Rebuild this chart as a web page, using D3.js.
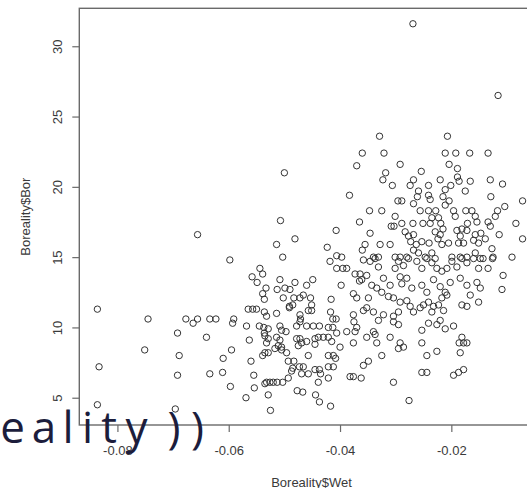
<!DOCTYPE html>
<html>
<head>
<meta charset="utf-8">
<script src="https://cdn.jsdelivr.net/npm/d3@7"></script>
<style>
  html, body { margin: 0; padding: 0; background: #ffffff; }
  svg { display: block; }
</style>
</head>
<body>
<svg id="chart" width="527" height="488"></svg>
<script>
// ---- data ----
const xTicks = [-0.08, -0.06, -0.04, -0.02];
const yTicks = [5, 10, 15, 20, 25, 30];
const xTitle = "Boreality$Wet";
const yTitle = "Boreality$Bor";
const overlayText = "eality))";

const wet = [
  -0.0836,-0.0745,-0.0677,-0.0664,-0.0656,-0.0634,-0.0623,-0.0591,-0.0593,-0.0565,
  -0.0557,-0.0550,-0.0536,-0.0514,-0.0568,-0.0545,-0.0529,-0.0536,-0.0692,-0.0640,
  -0.0563,-0.0532,-0.0517,-0.0535,-0.0539,-0.0595,-0.0751,-0.0610,-0.0689,-0.0560,
  -0.0833,-0.0692,-0.0634,-0.0611,-0.0555,-0.0597,-0.0554,-0.0569,-0.0529,-0.0836,
  -0.0696,-0.0525,-0.0532,-0.0526,-0.0520,-0.0513,-0.0503,-0.0535,-0.0656,-0.0598,
  -0.0544,-0.0539,-0.0558,-0.0549,-0.0533,-0.0539,-0.0536,-0.0514,-0.0360,-0.0370,
  -0.0500,-0.0383,-0.0507,-0.0365,-0.0407,-0.0481,-0.0423,-0.0406,-0.0397,-0.0360,
  -0.0503,-0.0269,-0.0116,-0.0329,-0.0207,-0.0321,-0.0211,-0.0192,-0.0167,-0.0134,
  -0.0292,-0.0204,-0.0189,-0.0318,-0.0323,-0.0254,-0.0189,-0.0186,-0.0268,-0.0274,
  -0.0220,-0.0166,-0.0130,-0.0108,-0.0306,-0.0241,-0.0201,-0.0211,-0.0175,-0.0259,
  -0.0261,-0.0241,-0.0238,-0.0215,-0.0211,-0.0204,-0.0129,-0.0072,-0.0296,-0.0289,
  -0.0268,-0.0347,-0.0325,-0.0256,-0.0241,-0.0228,-0.0196,-0.0174,-0.0163,-0.0117,
  -0.0104,-0.0193,-0.0157,-0.0154,-0.0121,-0.0301,-0.0235,-0.0223,-0.0308,-0.0303,
  -0.0289,-0.0269,-0.0251,-0.0238,-0.0219,-0.0215,-0.0171,-0.0134,-0.0130,-0.0084,
  -0.0346,-0.0283,-0.0277,-0.0268,-0.0229,-0.0220,-0.0190,-0.0181,-0.0172,-0.0157,
  -0.0147,-0.0114,-0.0072,-0.0355,-0.0328,-0.0310,-0.0273,-0.0263,-0.0253,-0.0240,
  -0.0224,-0.0217,-0.0205,-0.0184,-0.0187,-0.0178,-0.0160,-0.0151,-0.0139,-0.0127,
  -0.0340,-0.0331,-0.0301,-0.0292,-0.0280,-0.0268,-0.0259,-0.0247,-0.0235,-0.0229,
  -0.0199,-0.0184,-0.0172,-0.0157,-0.0148,-0.0125,-0.0091,-0.0418,-0.0406,-0.0395,
  -0.0388,-0.0373,-0.0364,-0.0365,-0.0508,-0.0481,-0.0460,-0.0449,-0.0513,-0.0499,
  -0.0490,-0.0502,-0.0483,-0.0472,-0.0466,-0.0453,-0.0451,-0.0491,-0.0485,-0.0491,
  -0.0376,-0.0370,-0.0416,-0.0398,-0.0532,-0.0472,-0.0471,-0.0457,-0.0451,-0.0417,
  -0.0413,-0.0407,-0.0376,-0.0375,-0.0370,-0.0358,-0.0537,-0.0508,-0.0505,-0.0497,
  -0.0478,-0.0472,-0.0460,-0.0448,-0.0437,-0.0421,-0.0413,-0.0388,-0.0373,-0.0535,
  -0.0529,-0.0514,-0.0508,-0.0511,-0.0505,-0.0478,-0.0472,-0.0469,-0.0475,-0.0460,
  -0.0445,-0.0439,-0.0445,-0.0430,-0.0421,-0.0415,-0.0406,-0.0400,-0.0376,-0.0529,
  -0.0505,-0.0496,-0.0457,-0.0493,-0.0483,-0.0487,-0.0485,-0.0473,-0.0466,-0.0469,
  -0.0457,-0.0445,-0.0437,-0.0435,-0.0421,-0.0412,-0.0408,-0.0421,-0.0412,-0.0493,
  -0.0439,-0.0421,-0.0382,-0.0376,-0.0362,-0.0477,-0.0467,-0.0444,-0.0437,-0.0417,
  -0.0304,-0.0276,-0.0358,-0.0346,-0.0337,-0.0331,-0.0295,-0.0301,-0.0286,-0.0277,
  -0.0262,-0.0253,-0.0244,-0.0235,-0.0226,-0.0217,-0.0208,-0.0199,-0.0190,-0.0181,
  -0.0172,-0.0160,-0.0151,-0.0143,-0.0134,-0.0126,-0.0107,-0.0352,-0.0361,-0.0343,
  -0.0334,-0.0322,-0.0310,-0.0292,-0.0289,-0.0280,-0.0271,-0.0253,-0.0244,-0.0232,
  -0.0220,-0.0211,-0.0202,-0.0184,-0.0172,-0.0166,-0.0154,-0.0148,-0.0109,-0.0349,
  -0.0325,-0.0313,-0.0304,-0.0292,-0.0280,-0.0274,-0.0268,-0.0256,-0.0250,-0.0241,
  -0.0232,-0.0223,-0.0217,-0.0208,-0.0235,-0.0214,-0.0181,-0.0172,-0.0151,-0.0352,
  -0.0340,-0.0322,-0.0304,-0.0295,-0.0331,-0.0304,-0.0295,-0.0253,-0.0241,-0.0226,
  -0.0220,-0.0211,-0.0196,-0.0352,-0.0337,-0.0340,-0.0310,-0.0334,-0.0181,-0.0178,
  -0.0172,-0.0186,-0.0253,-0.0292,-0.0286,-0.0295,-0.0226,-0.0244,-0.0184,-0.0325,
  -0.0349,-0.0358,-0.0253,-0.0244,-0.0196,-0.0187,-0.0178
];

const bor = [
  11.3,10.6,10.6,10.3,10.6,10.6,10.6,10.6,10.3,11.3,
  11.3,11.3,11.1,11.0,10.1,10.1,9.9,9.6,9.6,9.3,
  9.1,8.9,8.5,8.2,8.0,8.4,8.4,7.8,8.0,7.6,
  7.2,6.6,6.7,6.8,6.6,5.8,5.7,5.0,5.2,4.5,
  4.2,4.1,6.1,6.1,6.1,6.1,6.1,6.0,16.6,14.8,
  14.2,13.8,13.6,13.2,12.8,12.4,12.0,15.9,22.4,21.5,
  21.0,19.4,17.6,17.5,16.9,16.3,15.7,15.1,15.0,15.5,
  15.0,31.6,26.5,23.6,23.6,22.4,22.4,22.4,22.4,22.4,
  21.6,21.6,21.3,21.0,20.5,21.1,20.7,20.4,20.5,20.1,
  20.5,20.4,20.5,20.2,20.1,20.1,20.1,19.8,19.7,19.7,
  19.3,19.4,19.1,19.3,18.7,19.0,19.3,19.0,19.0,19.0,
  18.8,18.3,18.3,18.3,18.3,18.3,18.3,18.3,18.3,18.3,
  18.6,17.9,17.9,17.5,17.9,17.9,17.8,17.8,17.2,17.2,
  17.4,17.4,17.4,17.4,17.4,17.0,17.4,17.5,17.2,17.4,
  16.7,16.8,16.5,16.6,16.8,16.6,16.9,17.0,16.9,16.6,
  16.7,16.6,16.3,15.9,15.9,15.9,16.1,15.9,16.1,16.0,
  16.3,15.9,16.0,16.5,16.0,16.0,16.2,16.0,16.3,15.6,
  15.0,15.0,15.0,15.0,15.0,15.5,15.3,15.0,15.3,14.9,
  15.0,15.0,15.0,15.3,14.9,15.0,15.0,14.7,14.2,14.2,
  14.2,13.8,13.8,13.3,13.4,13.2,13.0,13.4,12.7,12.8,
  12.7,12.1,12.1,12.1,12.3,12.1,11.6,11.5,11.6,11.4,
  12.4,12.1,12.0,13.0,10.8,10.9,10.6,11.2,11.2,11.1,
  10.6,10.6,10.9,10.4,10.0,11.2,10.0,10.1,9.8,9.7,
  10.1,10.4,10.1,10.1,10.1,10.0,10.0,9.7,9.7,9.4,
  9.2,9.3,9.1,8.7,8.6,9.2,9.2,8.9,8.7,9.0,
  9.2,9.3,8.8,9.3,9.3,9.0,9.6,8.6,8.9,8.2,
  8.4,8.2,8.0,7.6,7.6,6.9,7.1,7.2,7.2,6.7,
  6.7,7.0,7.0,6.7,8.0,8.0,7.8,7.2,7.2,6.4,
  6.1,6.4,6.5,6.5,6.4,5.5,5.4,5.2,4.7,4.4,
  6.1,4.8,14.8,14.7,14.9,14.3,14.7,14.2,14.4,14.9,
  14.7,14.2,14.9,14.6,14.2,14.0,14.2,14.7,14.3,14.9,
  14.6,14.9,14.2,14.9,14.2,14.9,13.7,13.7,13.4,13.0,
  12.8,13.5,13.0,13.6,13.1,13.5,12.8,13.0,12.5,13.4,
  12.9,12.5,13.2,13.5,13.0,12.3,13.2,12.8,12.7,12.1,
  12.5,12.2,12.1,11.8,11.9,11.5,11.1,11.4,11.6,11.8,
  11.5,11.6,12.1,12.3,11.1,11.2,11.6,11.5,11.8,11.4,
  11.1,10.9,10.8,11.1,10.5,10.4,10.2,9.8,10.3,10.2,
  10.5,9.9,10.1,9.3,9.5,9.7,9.3,8.9,9.3,8.9,
  8.9,8.9,8.9,8.9,8.6,8.5,8.3,8.0,8.2,8.0,
  7.6,7.3,6.8,6.8,6.6,6.8,7.0
];

// ---- layout ----
const svg = d3.select("#chart");
const plotLeft = 79.3, plotTop = 8.3, plotBottom = 425, plotRight = 568.2;
const font = "'Liberation Sans', Arial, Helvetica, sans-serif";
const textCol = "#3a3a3a";

const x = d3.scaleLinear().domain([-0.08685, 0.001]).range([plotLeft, plotRight]);
const y = d3.scaleLinear().domain([3.06, 32.7]).range([plotBottom, plotTop]);

// points
const pts = wet.map((w, i) => ({ w: w, b: bor[i] }));
svg.append("g")
  .selectAll("circle")
  .data(pts)
  .enter()
  .append("circle")
  .attr("cx", d => x(d.w))
  .attr("cy", d => y(d.b))
  .attr("r", 3.2)
  .attr("fill", "none")
  .attr("stroke", "#333")
  .attr("stroke-width", 1);

// box
svg.append("rect")
  .attr("x", plotLeft).attr("y", plotTop)
  .attr("width", plotRight - plotLeft).attr("height", plotBottom - plotTop)
  .attr("fill", "none").attr("stroke", "#6a6a6a").attr("stroke-width", 1.4);

// x axis
const gx = svg.append("g")
  .attr("transform", `translate(0,${plotBottom})`)
  .call(d3.axisBottom(x).tickValues(xTicks).tickSize(7).tickFormat(d => d.toFixed(2)));
gx.select(".domain").remove();
gx.selectAll(".tick line").attr("stroke", "#6a6a6a").attr("stroke-width", 1.2);
gx.selectAll(".tick text")
  .attr("y", 30).attr("dy", 0)
  .attr("fill", textCol)
  .style("font-family", font).style("font-size", "13px");

// y axis
const gy = svg.append("g")
  .attr("transform", `translate(${plotLeft},0)`)
  .call(d3.axisLeft(y).tickValues(yTicks).tickSize(7));
gy.select(".domain").remove();
gy.selectAll(".tick line").attr("stroke", "#6a6a6a").attr("stroke-width", 1.2);
gy.selectAll(".tick text")
  .attr("x", 0).attr("y", 0).attr("dy", 0)
  .attr("text-anchor", "middle")
  .attr("transform", "translate(-17.5,0) rotate(-90)")
  .attr("fill", textCol)
  .style("font-family", font).style("font-size", "13px");

// titles
svg.append("text")
  .attr("x", 311.5).attr("y", 486.5)
  .attr("text-anchor", "middle")
  .attr("fill", textCol)
  .style("font-family", font).style("font-size", "13px")
  .text(xTitle);

svg.append("text")
  .attr("transform", `translate(29.5,${(plotTop + plotBottom) / 2}) rotate(-90)`)
  .attr("text-anchor", "middle")
  .attr("fill", textCol)
  .style("font-family", font).style("font-size", "13px")
  .text(yTitle);

// overlay text (spaced characters)
const charCenters = [12.5, 44, 68, 87.5, 109, 136.5, 174, 197.5];
const ov = svg.append("text")
  .attr("y", 443)
  .attr("text-anchor", "middle")
  .attr("fill", "#1c1d3c")
  .style("font-family", "'Open Sans', 'Noto Sans', sans-serif")
  .style("font-size", "44px");
overlayText.split("").forEach((c, i) => {
  ov.append("tspan").attr("x", charCenters[i]).text(c);
});
</script>
</body>
</html>
